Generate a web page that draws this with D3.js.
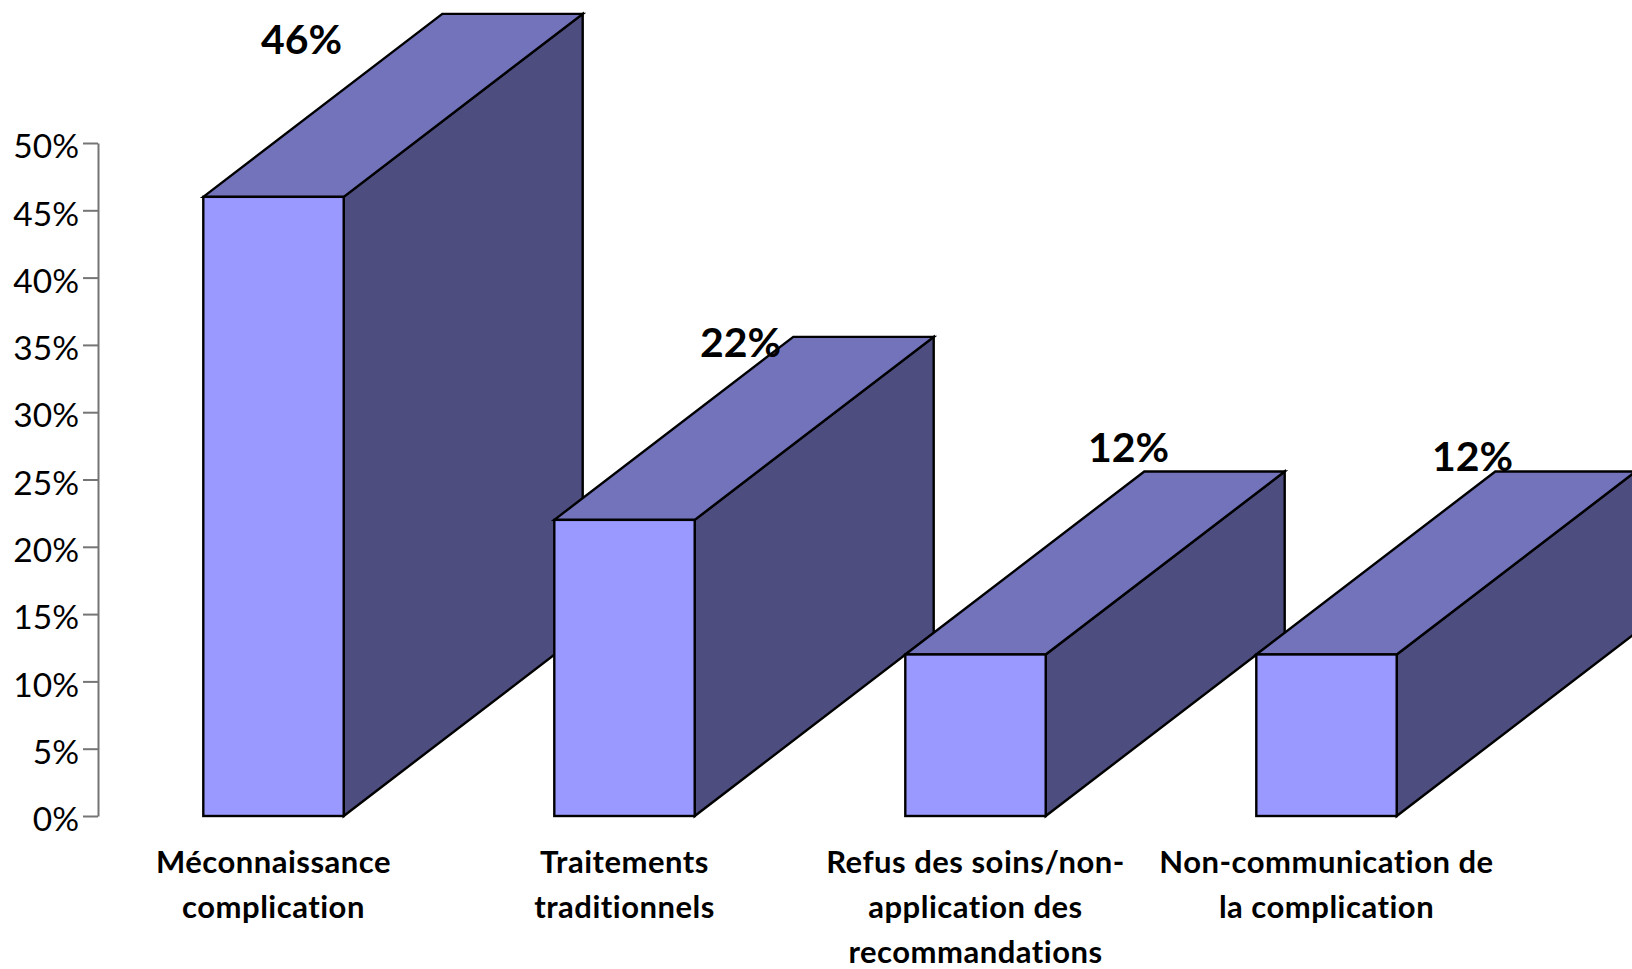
<!DOCTYPE html>
<html lang="fr">
<head>
<meta charset="utf-8">
<title>Causes de complications</title>
<script src="https://cdn.jsdelivr.net/npm/d3@7"></script>
<style>
  html, body { margin: 0; padding: 0; background: #fff; overflow: hidden; }
  svg { display: block; font-family: Lato, "Open Sans", sans-serif; font-variant-ligatures: none; }
</style>
</head>
<body>
<svg id="chart" width="1632" height="969"></svg>
<script>
// Chart values
const categories = [
  ["Méconnaissance", "complication"],
  ["Traitements", "traditionnels"],
  ["Refus des soins/non-", "application des", "recommandations"],
  ["Non-communication de", "la complication"]
];
const values = [46, 22, 12, 12];
const axisTicks = [0, 5, 10, 15, 20, 25, 30, 35, 40, 45, 50];

// Layout and colours
const axisX = 98, plotRight = 1502, baseY = 816, topY = 143;
const depthX = 239, depthY = 183;
const valueLabelShift = [[28, -143], [116, -163], [153, -192], [146, -183]];
const colors = { front: "#9999ff", top: "#7373bb", side: "#4d4d7f", axis: "#757575", text: "#000" };

const svg = d3.select("#chart");

const y = d3.scaleLinear().domain([0, 50]).range([baseY, topY]);
const x = d3.scaleBand()
  .domain(d3.range(categories.length))
  .range([axisX, plotRight])
  .paddingInner(0.6)
  .paddingOuter(0.3);

// Vertical axis with ticks on the left and percentage labels
const axis = svg.append("g")
  .attr("transform", `translate(${axisX},0)`)
  .call(d3.axisLeft(y).tickValues(axisTicks).tickSize(15).tickPadding(4).tickSizeOuter(0).tickFormat(d => d + "%"));
axis.selectAll("path, line").attr("stroke", colors.axis).attr("stroke-width", 2);
axis.selectAll("text")
  .attr("fill", colors.text)
  .attr("dy", "0.44em")
  .style("font-family", "Lato, sans-serif")
  .style("font-size", "33.5px");

// Extruded bars, drawn left to right so nearer boxes overlap the previous one
const bars = svg.append("g").selectAll("g").data(values).join("g");

const poly = pts => d3.line()(pts) + "Z";
const faceStyle = sel => sel.attr("stroke", "#000").attr("stroke-width", 2.4).attr("stroke-linejoin", "miter");

bars.append("path")
  .attr("d", (d, i) => {
    const r = x(i) + x.bandwidth();
    return poly([[r, y(d)], [r + depthX, y(d) - depthY], [r + depthX, y(0) - depthY], [r, y(0)]]);
  })
  .attr("fill", colors.side).call(faceStyle);

bars.append("path")
  .attr("d", (d, i) => {
    const l = x(i), r = l + x.bandwidth();
    return poly([[l, y(d)], [l + depthX, y(d) - depthY], [r + depthX, y(d) - depthY], [r, y(d)]]);
  })
  .attr("fill", colors.top).call(faceStyle);

bars.append("rect")
  .attr("x", (d, i) => x(i))
  .attr("y", d => y(d))
  .attr("width", x.bandwidth())
  .attr("height", d => y(0) - y(d))
  .attr("fill", colors.front).call(faceStyle);

// Value labels above the boxes
svg.append("g").selectAll("text").data(values).join("text")
  .attr("x", (d, i) => x(i) + x.bandwidth() / 2 + valueLabelShift[i][0])
  .attr("y", (d, i) => y(d) + valueLabelShift[i][1])
  .attr("text-anchor", "middle")
  .attr("font-size", 41)
  .attr("font-weight", 700)
  .attr("fill", colors.text)
  .text(d => d + "%");

// Category names, wrapped over several lines
const names = svg.append("g").selectAll("text").data(categories).join("text")
  .attr("text-anchor", "middle")
  .attr("font-size", 31)
  .attr("font-weight", 700)
  .attr("letter-spacing", 0.5)
  .attr("fill", colors.text);
names.selectAll("tspan").data((d, i) => d.map((line, k) => ({ line, k, i }))).join("tspan")
  .attr("x", d => x(d.i) + x.bandwidth() / 2)
  .attr("y", d => 873 + d.k * 45)
  .text(d => d.line);
</script>
</body>
</html>
